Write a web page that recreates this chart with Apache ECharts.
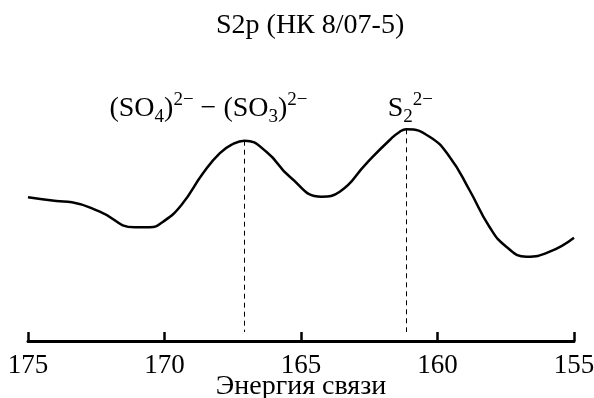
<!DOCTYPE html>
<html>
<head>
<meta charset="utf-8">
<title>S2p</title>
<script src="https://cdn.jsdelivr.net/npm/echarts@6/dist/echarts.min.js"></script>
<style>
  html, body { margin: 0; padding: 0; background: #fff; }
  #chart { width: 594px; height: 398px; }
</style>
</head>
<body>
<div id="chart"></div>
<script>
// binding energy, eV (axis runs right-to-left)
var energy = [175.0, 173.96, 173.39, 172.37, 171.09, 170.54, 170.05, 169.38, 168.59, 167.98,
  167.49, 167.07, 166.27, 165.41, 164.25, 163.58, 162.6, 161.75, 161.38,
  161.14, 160.29, 159.56, 158.83, 158.1, 157.48, 156.74, 155.89, 155.0];
// intensity, arbitrary units
var intensity = [143.7, 140.0, 138.7, 129.3, 113.7, 113.7, 119.3, 136.0, 167.7, 187.7,
  197.0, 200.3, 189.3, 164.3, 144.3, 149.3, 177.7, 201.0, 209.3,
  211.7, 204.3, 184.3, 151.0, 114.3, 94.3, 84.3, 89.3, 103.3];
var xTicks = [175, 170, 165, 160, 155];
// peak positions and their labels
var peakEnergy = [167.07, 161.14];
var peakIntensity = [200.3, 211.7];
var peakLabels = [
  '(SO{sub|4}){sup|2−} − (SO{sub|3}){sup|2−}',
  'S{sub|2}{sup|2−}'
];

var FONT = 'Liberation Serif, Times New Roman, serif';
var labelLevel = 232; // height of the peak captions
var labelShift = [-36, 4]; // captions are not exactly centred on the peaks

var chart = echarts.init(document.getElementById('chart'));

var series = energy.map(function (e, i) {
  return [e, intensity[i]];
});

var dashLines = peakEnergy.map(function (e, i) {
  return [{ coord: [e, peakIntensity[i]] }, { coord: [e, 9] }];
});

var captions = peakEnergy.map(function (e, i) {
  return {
    coord: [e, labelLevel],
    label: {
      formatter: peakLabels[i],
      offset: [labelShift[i], 0],
    },
  };
});

chart.setOption({
  animation: false,
  title: {
    text: 'S2p (НК 8/07-5)',
    left: 211,
    top: 7,
    textStyle: {
      fontFamily: FONT,
      fontSize: 28,
      fontWeight: 'normal',
      color: '#000',
    },
  },
  grid: {
    left: 28,
    right: 20,
    top: 100,
    bottom: 57,
    outerBoundsMode: 'none',
  },
  xAxis: {
    type: 'value',
    inverse: true,
    min: 155,
    max: 175,
    interval: 5,
    name: 'Энергия связи',
    nameLocation: 'middle',
    nameGap: 32,
    nameMoveOverlap: false,
    nameTextStyle: {
      fontFamily: FONT,
      fontSize: 28,
      color: '#000',
    },
    axisLine: { lineStyle: { color: '#000', width: 3 } },
    axisTick: { inside: true, length: 9, lineStyle: { color: '#000', width: 2.5 } },
    axisLabel: {
      fontFamily: FONT,
      fontSize: 27,
      color: '#000',
      margin: 11,
      formatter: function (v) {
        return xTicks.indexOf(v) >= 0 ? String(v) : '';
      },
    },
    splitLine: { show: false },
  },
  yAxis: {
    type: 'value',
    min: 0,
    max: 241,
    show: false,
  },
  series: [
    {
      type: 'line',
      data: series,
      smooth: 0.5,
      symbol: 'none',
      lineStyle: { color: '#000', width: 2.5 },
      markLine: {
        silent: true,
        symbol: ['none', 'none'],
        label: { show: false },
        lineStyle: { color: '#000', width: 1, type: [5, 4] },
        data: dashLines,
      },
      markPoint: {
        silent: true,
        symbol: 'circle',
        symbolSize: 1,
        itemStyle: { color: 'rgba(0,0,0,0)' },
        label: {
          show: true,
          position: 'inside',
          fontFamily: FONT,
          fontSize: 28,
          lineHeight: 36,
          color: '#000',
          rich: {
            sub: { fontFamily: FONT, fontSize: 19, lineHeight: 19, verticalAlign: 'bottom', color: '#000' },
            sup: { fontFamily: FONT, fontSize: 19, lineHeight: 19, verticalAlign: 'top', color: '#000' },
          },
        },
        data: captions,
      },
    },
  ],
});
</script>
</body>
</html>
